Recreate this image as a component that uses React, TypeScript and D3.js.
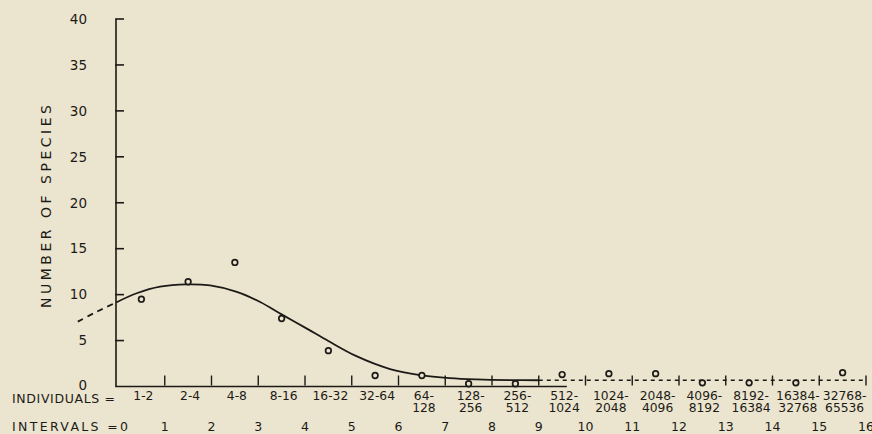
import React from "react";
import * as d3 from "d3";

// Observed points (interval index midpoints)
const intervals = d3.range(16);
const species = [9.5, 11.4, 13.5, 7.4, 3.9, 1.2, 1.2, 0.3, 0.3, 1.3, 1.4, 1.4, 0.4, 0.4, 0.4, 1.5];

// Fitted curve
const curveR = [-0.04, 0.4, 0.9, 1.47, 1.97, 2.54, 3.04, 3.5, 4.04, 4.5, 5.1, 5.82, 6.46, 7.1, 7.67, 8.38, 9.0];
const curveN = [9.15, 10.15, 10.87, 11.12, 11.0, 10.3, 9.2, 7.85, 6.3, 4.95, 3.3, 1.9, 1.25, 0.92, 0.78, 0.7, 0.68];
const leftDashR = [-0.86, -0.45, -0.04];
const leftDashN = [7.06, 8.15, 9.15];
const rightDashR = [9.0, 16.0];
const rightDashN = [0.68, 0.68];

const yTicks = [0, 5, 10, 15, 20, 25, 30, 35, 40];
const xTickIdx = d3.range(1, 17);
const binLine1 = ["1-2", "2-4", "4-8", "8-16", "16-32", "32-64", "64-", "128-", "256-", "512-", "1024-", "2048-", "4096-", "8192-", "16384-", "32768-"];
const binLine2 = ["", "", "", "", "", "", "128", "256", "512", "1024", "2048", "4096", "8192", "16384", "32768", "65536"];
const intervalLabels = d3.range(1, 17).map(String);

const W = 872;
const H = 434;
const BG = "#ebe5cf";
const INK = "#1c1a16";
const FONT = "DejaVu Sans, sans-serif";

export default function App() {
  const x = d3.scaleLinear().domain([0, 16]).range([118, 866]);
  const y = d3.scaleLinear().domain([0, 40]).range([386.5, 19]);
  const axisX = 116;

  const mk = (rs: number[], ns: number[], curve: d3.CurveFactory) =>
    d3
      .line<[number, number]>()
      .x((d) => x(d[0]))
      .y((d) => y(d[1]))
      .curve(curve)(rs.map((r, i) => [r, ns[i]] as [number, number])) || "";

  const solidPath = mk(curveR, curveN, d3.curveCatmullRom.alpha(0.5));
  const leftPath = mk(leftDashR, leftDashN, d3.curveCatmullRom.alpha(0.5));
  const rightPath = mk(rightDashR, rightDashN, d3.curveLinear);

  return (
    <svg
      width={W}
      height={H}
      style={{ position: "absolute", left: 0, top: 0, background: BG }}
      fontFamily={FONT}
    >
      <rect x={0} y={0} width={W} height={H} fill={BG} />
      {/* Y axis */}
      <line x1={axisX} x2={axisX} y1={y(40)} y2={y(0)} stroke={INK} strokeWidth={1.6} />
      {yTicks.slice(1).map((t) => (
        <line key={t} x1={axisX - 0.8} x2={axisX + 8} y1={y(t)} y2={y(t)} stroke={INK} strokeWidth={1.6} />
      ))}
      {yTicks.map((t) => (
        <text key={t} x={87} y={y(t) + (t === 0 ? 3 : 4.8)} textAnchor="end" fontSize={13.5} fill={INK}>
          {t}
        </text>
      ))}
      <text
        transform={`translate(51,206.5) rotate(-90)`}
        textAnchor="middle"
        fontSize={14}
        fill={INK}
        textLength={203}
        lengthAdjust="spacing"
      >
        NUMBER OF SPECIES
      </text>

      {/* X axis baseline */}
      <line x1={axisX - 0.8} x2={x(9.6)} y1={y(0)} y2={y(0)} stroke={INK} strokeWidth={1.6} />
      {xTickIdx.map((i) => (
        <line key={i} x1={x(i)} x2={x(i)} y1={y(0) - 1} y2={y(0) - 11} stroke={INK} strokeWidth={1.4} />
      ))}

      {/* Curves */}
      <path d={solidPath} fill="none" stroke={INK} strokeWidth={1.8} />
      <path d={leftPath} fill="none" stroke={INK} strokeWidth={1.8} strokeDasharray="6 5" />
      <path d={rightPath} fill="none" stroke={INK} strokeWidth={1.4} strokeDasharray="4 4" />

      {/* Points */}
      {intervals.map((i) => (
        <circle
          key={i}
          cx={x(i + 0.5)}
          cy={y(species[i])}
          r={2.8}
          fill={BG}
          stroke={INK}
          strokeWidth={1.7}
        />
      ))}

      {/* Bin labels */}
      <text x={12} y={403} fontSize={12.5} fill={INK} textLength={103} lengthAdjust="spacing">
        INDIVIDUALS =
      </text>
      {intervals.map((i) => (
        <g key={i}>
          <text x={x(i + 0.5) + 2} y={399.5} textAnchor="middle" fontSize={12.3} fill={INK}>
            {binLine1[i]}
          </text>
          {binLine2[i] && (
            <text x={x(i + 0.5) + 2} y={411.5} textAnchor="middle" fontSize={12.3} fill={INK}>
              {binLine2[i]}
            </text>
          )}
        </g>
      ))}

      {/* Interval labels */}
      <text x={12} y={431} fontSize={12.5} fill={INK} textLength={116} lengthAdjust="spacing">
        INTERVALS =0
      </text>
      {xTickIdx.map((i, k) => (
        <text key={i} x={x(i)} y={431} textAnchor="middle" fontSize={12.5} fill={INK}>
          {intervalLabels[k]}
        </text>
      ))}
    </svg>
  );
}
